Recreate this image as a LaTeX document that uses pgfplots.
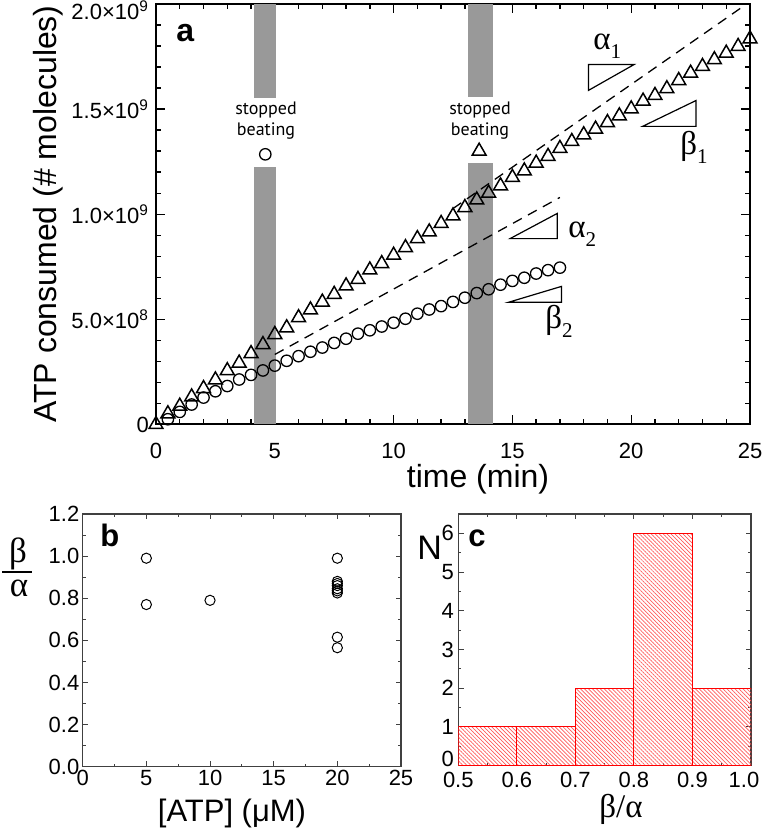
\documentclass[border=0pt]{standalone}
\usepackage{pgfplots}
\pgfplotsset{compat=1.18}
\usetikzlibrary{patterns.meta}
\usepackage{fontspec}
\setmainfont{Liberation Sans}
\newfontfamily\serif{Liberation Serif}
\newfontfamily\myr{PT Sans}
\definecolor{bargray}{RGB}{153,153,153}
\newcommand\slab[2]{{\serif\fontsize{16.5}{18}\selectfont #1\raisebox{-4.5pt}{\fontsize{10.5}{12}\selectfont #2}}}
\newcommand\tlf{\fontsize{11}{12}\selectfont}
\begin{document}
\begin{tikzpicture}
\useasboundingbox (0,0) rectangle (381.5pt,414.5pt);
% ---------------- panel a
\begin{axis}[scale only axis, anchor=south west, tick align=inside,
  at={(78pt,202.25pt)}, width=297pt, height=210.25pt,
  every tick label/.append style={font=\tlf},
  /pgf/number format/assume math mode=true,
  xmin=0, xmax=25, ymin=0, ymax=2e9,
  xtick={0,5,10,15,20,25}, minor x tick num=4,
  ytick={0,5e8,1e9,1.5e9,2e9}, minor y tick num=4, scaled y ticks=false,
  yticklabels={0,{5.0×10\textsuperscript{8}},{1.0×10\textsuperscript{9}},{1.5×10\textsuperscript{9}},{\raisebox{-3pt}[\height][\depth]{2.0×10\textsuperscript{9}}}},
  xticklabel style={yshift=-6pt},
  major tick length=4.5pt, minor tick length=2.5pt,
  axis line style={line width=1pt},
  tick style={line width=0.7pt, black}]
\fill[bargray] (axis cs:4.12,0) rectangle (axis cs:5.05,1.223e9);
\fill[bargray] (axis cs:4.12,1.551e9) rectangle (axis cs:5.05,2e9);
\fill[bargray] (axis cs:13.12,0) rectangle (axis cs:14.17,1.245e9);
\fill[bargray] (axis cs:13.12,1.556e9) rectangle (axis cs:14.17,2e9);
\addplot[black, line width=0.65pt, dash pattern=on 5pt off 3.5pt] coordinates {(12.5,1.027e9)(24.85,1.9995e9)};
\addplot[black, line width=0.65pt, dash pattern=on 5pt off 3.5pt] coordinates {(5.0,3.33e8)(17.0,1.08e9)};
\addplot[only marks, mark=triangle, mark size=4pt, mark options={line width=0.75pt, black}] coordinates {
(0,0)(0.5,0.51e8)(1,0.87e8)(1.5,1.31e8)(2,1.71e8)(2.5,2.12e8)(3,2.56e8)(3.5,2.92e8)(4,3.37e8)(4.5,3.80e8)
(5,4.28e8)(5.5,4.60e8)(6,5.08e8)(6.5,5.45e8)(7,5.82e8)(7.5,6.19e8)(8,6.59e8)(8.5,6.90e8)(9,7.35e8)(9.5,7.65e8)
(10,8.05e8)(10.5,8.41e8)(11,8.84e8)(11.5,9.16e8)(12,9.56e8)(12.5,9.92e8)(13,10.32e8)(13.5,10.68e8)(14,11.00e8)(14.5,11.35e8)
(15,11.75e8)(15.5,12.06e8)(16,12.43e8)(16.5,12.75e8)(17,13.13e8)(17.5,13.46e8)(18,13.78e8)(18.5,14.05e8)(19,14.36e8)(19.5,14.68e8)
(20,15.01e8)(20.5,15.38e8)(21,15.65e8)(21.5,15.97e8)(22,16.36e8)(22.5,16.71e8)(23,17.03e8)(23.5,17.35e8)(24,17.66e8)(24.5,17.98e8)(25,18.34e8)};
\addplot[only marks, mark=o, mark size=2.85pt, mark options={line width=0.65pt, black}] coordinates {
(0.5,0.25e8)(1,0.60e8)(1.5,0.95e8)(2,1.28e8)(2.5,1.58e8)(3,1.83e8)(3.5,2.14e8)(4,2.36e8)(4.5,2.57e8)(5,2.80e8)
(5.5,3.03e8)(6,3.25e8)(6.5,3.46e8)(7,3.66e8)(7.5,3.88e8)(8,4.08e8)(8.5,4.32e8)(9,4.48e8)(9.5,4.66e8)(10,4.84e8)
(10.5,5.03e8)(11,5.27e8)(11.5,5.47e8)(12,5.63e8)(12.5,5.83e8)(13,6.03e8)(13.5,6.25e8)(14,6.43e8)(14.5,6.65e8)(15,6.83e8)
(15.5,6.98e8)(16,7.18e8)(16.5,7.34e8)(17,7.46e8)};
\addplot[only marks, mark=o, mark size=2.85pt, mark options={line width=0.65pt, black}] coordinates {(4.6,1.285e9)};
\addplot[only marks, mark=triangle, mark size=4pt, mark options={line width=0.75pt, black}] coordinates {(13.6,1.30e9)};
\draw[line width=0.6pt] (axis cs:18.2,1.589e9) -- (axis cs:18.2,1.712e9) -- (axis cs:20.12,1.712e9) -- cycle;
\draw[line width=0.6pt] (axis cs:20.48,1.418e9) -- (axis cs:22.73,1.418e9) -- (axis cs:22.73,1.541e9) -- cycle;
\draw[line width=0.6pt] (axis cs:14.9,0.884e9) -- (axis cs:16.89,0.884e9) -- (axis cs:16.89,1.004e9) -- cycle;
\draw[line width=0.6pt] (axis cs:14.83,0.581e9) -- (axis cs:17.07,0.581e9) -- (axis cs:17.07,0.657e9) -- cycle;
\end{axis}
% ---------------- panel b
\begin{axis}[scale only axis, anchor=south west, tick align=inside,
  at={(41.35pt,31.15pt)}, width=159.15pt, height=126.35pt,
  every tick label/.append style={font=\tlf},
  /pgf/number format/assume math mode=true,
  xmin=0, xmax=25, ymin=0, ymax=1.2,
  xtick={0,5,10,15,20,25}, minor x tick num=1,
  ytick={0,0.2,0.4,0.6,0.8,1.0,1.2}, minor y tick num=1,
  yticklabel style={/pgf/number format/fixed, /pgf/number format/fixed zerofill, /pgf/number format/precision=1, inner sep=1.5pt},
  xticklabel style={inner sep=1.5pt},
  major tick length=2.6pt, minor tick length=1.5pt,
  axis line style={line width=0.6pt, black!75},
  tick style={line width=0.5pt, black!75}]
\addplot[only marks, mark=o, mark size=2.55pt, mark options={line width=0.5pt, black}] coordinates {
(5,0.99)(5,0.77)(10,0.79)(20,0.99)(20,0.88)(20,0.87)(20,0.86)(20,0.845)(20,0.835)(20,0.825)(20,0.615)(20,0.565)};
\end{axis}
% ---------------- panel c
\begin{axis}[scale only axis, anchor=south west, tick align=inside,
  at={(229.15pt,31.65pt)}, width=146.35pt, height=125.85pt,
  every tick label/.append style={font=\tlf},
  /pgf/number format/assume math mode=true,
  xmin=0.5, xmax=1, ymin=0, ymax=6.5,
  xtick={0.5,0.6,0.7,0.8,0.9,1.0}, minor x tick num=1,
  xticklabels={0.5,0.6,0.7,0.8,0.9,{\hspace*{-7pt}1.0}},
  ytick={0,1,2,3,4,5,6}, minor y tick num=1,
  yticklabels={\raisebox{3.5pt}[\height][\depth]{0},1,2,3,4,5,6},
  xticklabel style={inner sep=3pt},
  yticklabel style={inner sep=2pt},
  major tick length=2.6pt, minor tick length=1.5pt,
  axis line style={line width=0.6pt, black!75},
  tick style={line width=0.5pt, black!75}]
\addplot[ybar interval, draw=red, line width=0.5pt, pattern={Lines[angle=-45,distance=1.4pt,line width=0.35pt]}, pattern color=red!65]
  coordinates {(0.5,1)(0.6,1)(0.7,2)(0.8,6)(0.9,2)(1.0,2)};
\end{axis}
% ---------------- texts (pixel coordinates, origin top-left)
\begin{scope}[x=0.5pt, y=-0.5pt, yshift=414.5pt]
\node[rotate=90, anchor=base, inner sep=0, font=\fontsize{16}{18}\selectfont] at (57,214) {ATP consumed (\# molecules)};
\node[anchor=base, inner sep=0, font=\fontsize{16}{18}\selectfont] at (478,488) {time (min)};
\node[anchor=base west, inner sep=0, font=\fontsize{16}{18}\selectfont\bfseries] at (176,42) {a};
\node[anchor=base, inner sep=0, font=\myr\fontsize{9}{10}\selectfont] at (266,115) {stopped};
\node[anchor=base, inner sep=0, font=\myr\fontsize{9}{10}\selectfont] at (266,136) {beating};
\node[anchor=base, inner sep=0, font=\myr\fontsize{9}{10}\selectfont] at (480,115) {stopped};
\node[anchor=base, inner sep=0, font=\myr\fontsize{9}{10}\selectfont] at (480,136) {beating};
\node[anchor=base west, inner sep=0] at (593,50) {\slab{α}{1}};
\node[anchor=base west, inner sep=0] at (680,155) {\slab{β}{1}};
\node[anchor=base west, inner sep=0] at (568,238) {\slab{α}{2}};
\node[anchor=base west, inner sep=0] at (545,329) {\slab{β}{2}};
% panel b
\node[anchor=base west, inner sep=0, font=\fontsize{15.5}{18}\selectfont\bfseries] at (100,547) {b};
\node[anchor=base, inner sep=0, font=\serif\fontsize{17.5}{20}\selectfont] at (18,563) {β};
\draw[line width=0.75pt] (2,572) -- (32,572);
\node[anchor=base, inner sep=0, font=\serif\fontsize{17.5}{20}\selectfont] at (19,597) {α};
\node[anchor=base, inner sep=0, font=\fontsize{15.5}{18}\selectfont] at (232,821) {[ATP] (μM)};
% panel c
\node[anchor=base west, inner sep=0, font=\fontsize{15.5}{18}\selectfont\bfseries] at (468,547) {c};
\node[anchor=base west, inner sep=0, font=\fontsize{17}{18}\selectfont] at (417,560) {N};
\node[anchor=base, inner sep=0, font=\serif\fontsize{16.5}{18}\selectfont] at (621,818) {β/α};
\end{scope}
\end{tikzpicture}
\end{document}
